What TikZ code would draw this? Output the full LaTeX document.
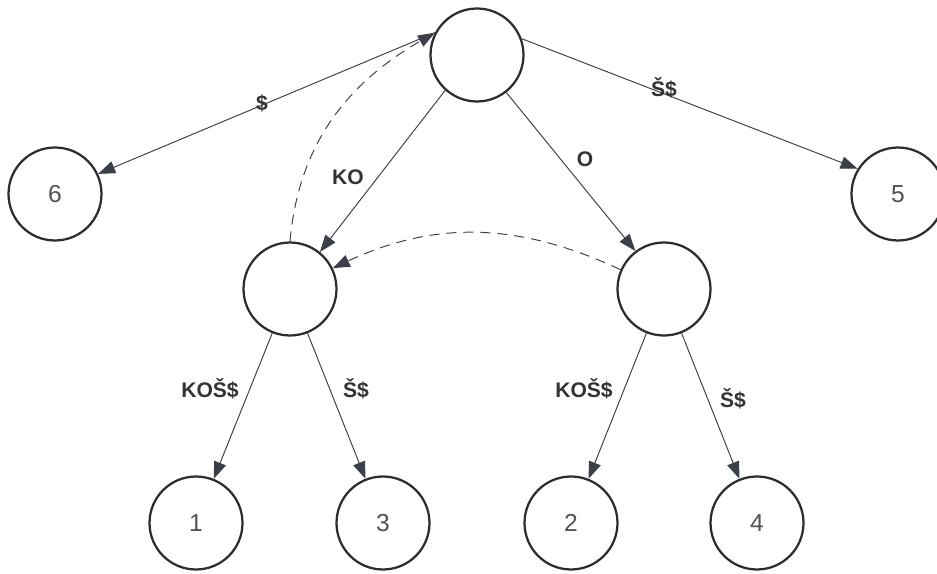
\documentclass[tikz,border=0pt]{standalone}
\usepackage{fontspec}
\setmainfont{Liberation Sans}
\usetikzlibrary{arrows.meta}
\definecolor{ringcol}{HTML}{2B2D31}
\definecolor{edgecol}{HTML}{3B4048}
\definecolor{textcol}{HTML}{333333}
\tikzset{
  state/.style={circle, draw=ringcol, line width=0.045cm, minimum size=1.86cm, inner sep=0pt,
    text=textcol!85!white, font=\fontsize{14}{16}\selectfont},
  edge/.style={draw=edgecol, line width=0.55pt, -{Triangle[length=0.34cm,width=0.25cm]}},
  link/.style={edge, dash pattern=on 0.2cm off 0.14cm},
  lbl/.style={anchor=base, text=textcol, font=\fontsize{12}{14}\selectfont\bfseries}
}
\begin{document}
\begin{tikzpicture}[x=0.02cm, y=-0.02cm]
\useasboundingbox (0,0) rectangle (937,574);
% nodes
\node[state] (root) at (477,55) {};
\node[state] (n6) at (55,194) {6};
\node[state] (n5) at (898,194) {5};
\node[state] (kl) at (290,289) {};
\node[state] (kr) at (664,289) {};
\node[state] (n1) at (196,523) {1};
\node[state] (n3) at (383,523) {3};
\node[state] (n2) at (571,523) {2};
\node[state] (n4) at (757,523) {4};
% edges
\draw[edge] (root.152) -- (n6.25);
\draw[edge] (root.20) -- (n5.148);
\draw[edge] (root.228) -- (kl.51);
\draw[edge] (root.308) -- (kr.127);
\draw[edge] (kl) -- (n1);
\draw[edge] (kl) -- (n3);
\draw[edge] (kr) -- (n2);
\draw[edge] (kr) -- (n4);
% suffix links
\draw[link] (kl.north) to[out=85, in=210] (root.152);
\draw[link] (kr.156) to[out=155, in=25] (kl.26);
% labels
\node[lbl] (l6) at (262,111) {\$};
\node[lbl] (l5) at (664,97) {Š\$};
\node[lbl] (lko) at (348,185) {KO};
\node[lbl] (lo) at (585,167) {O};
\node[lbl] (l1) at (210,398) {KOŠ\$};
\node[lbl] (l3) at (356,398) {Š\$};
\node[lbl] (l2) at (584,398) {KOŠ\$};
\node[lbl] (l4) at (733,407) {Š\$};
\end{tikzpicture}
\end{document}
